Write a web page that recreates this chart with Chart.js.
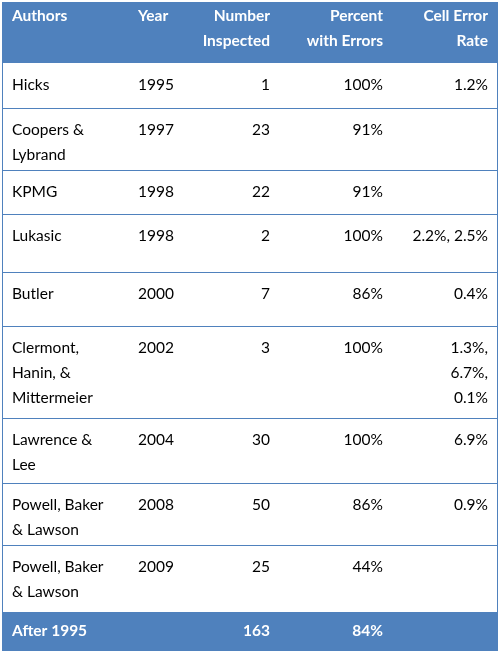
<!DOCTYPE html>
<html>
<head>
<meta charset="utf-8">
<script src="https://cdn.jsdelivr.net/npm/chart.js@4"></script>
<style>
  html, body { margin: 0; padding: 0; background: #fff; }
  #wrap { width: 500px; height: 654px; }
</style>
</head>
<body>
<div id="wrap"><canvas id="tableChart"></canvas></div>
<script>
// table contents
const headers = [["Authors"], ["Year"], ["Number", "Inspected"], ["Percent", "with Errors"], ["Cell Error", "Rate"]];
const authors = [["Hicks"], ["Coopers &", "Lybrand"], ["KPMG"], ["Lukasic"], ["Butler"],
  ["Clermont,", "Hanin, &", "Mittermeier"], ["Lawrence &", "Lee"], ["Powell, Baker", "& Lawson"], ["Powell, Baker", "& Lawson"]];
const years = ["1995", "1997", "1998", "1998", "2000", "2002", "2004", "2008", "2009"];
const inspected = ["1", "23", "22", "2", "7", "3", "30", "50", "25"];
const percentErrors = ["100%", "91%", "91%", "100%", "86%", "100%", "100%", "86%", "44%"];
const cellErrorRate = [["1.2%"], [], [], ["2.2%, 2.5%"], ["0.4%"], ["1.3%,", "6.7%,", "0.1%"], ["6.9%"], ["0.9%"], []];
const footer = ["After 1995", "", "163", "84%", ""];

// row boundaries (in table units), column anchors
const rowEdges = [2, 62, 108, 170, 214, 272, 326, 418, 483, 545, 612, 650];
const colAnchors = [12, 138, 270, 383, 488];
const colAlign = ["left", "left", "right", "right", "right"];

const BLUE = "#4f81bd";
const FONT = "Lato, 'Open Sans', sans-serif";

const tablePlugin = {
  id: "tablePlugin",
  afterDraw(chart) {
    const ctx = chart.ctx;
    const xs = chart.scales.x, ys = chart.scales.y;
    const X = v => xs.getPixelForValue(v), Y = v => ys.getPixelForValue(v);
    const left = X(2), right = X(498);
    ctx.save();
    // header and footer fills
    ctx.fillStyle = BLUE;
    ctx.fillRect(left, Y(rowEdges[0]), right - left, Y(rowEdges[1]) - Y(rowEdges[0]));
    const n = rowEdges.length;
    ctx.fillRect(left, Y(rowEdges[n - 2]), right - left, Y(rowEdges[n - 1]) - Y(rowEdges[n - 2]));
    // grid lines
    ctx.strokeStyle = BLUE;
    ctx.lineWidth = 1;
    rowEdges.forEach(r => {
      ctx.beginPath(); ctx.moveTo(left, Math.round(Y(r)) + 0.5); ctx.lineTo(right, Math.round(Y(r)) + 0.5); ctx.stroke();
    });
    ctx.beginPath();
    ctx.moveTo(left + 0.5, Y(rowEdges[0])); ctx.lineTo(left + 0.5, Y(rowEdges[n - 1]));
    ctx.moveTo(right - 0.5, Y(rowEdges[0])); ctx.lineTo(right - 0.5, Y(rowEdges[n - 1]));
    ctx.stroke();

    const drawCell = (lines, col, top, color, bold) => {
      ctx.fillStyle = color;
      ctx.font = (bold ? "bold " : "") + "15.5px " + FONT;
      ctx.textAlign = colAlign[col];
      ctx.textBaseline = "middle";
      lines.forEach((t, i) => ctx.fillText(t, X(colAnchors[col]), Y(top + 14 + i * 25)));
    };
    headers.forEach((h, c) => drawCell(h, c, rowEdges[0], "#fff", true));
    authors.forEach((a, r) => {
      const top = rowEdges[r + 1] + (r === 0 ? 9 : 8);
      drawCell(a, 0, top, "#000", false);
      drawCell([years[r]], 1, top, "#000", false);
      drawCell([inspected[r]], 2, top, "#000", false);
      drawCell([percentErrors[r]], 3, top, "#000", false);
      drawCell(cellErrorRate[r], 4, top, "#000", false);
    });
    footer.forEach((f, c) => { if (f) drawCell([f], c, rowEdges[n - 2] + 5, "#fff", true); });
    ctx.restore();
  }
};

new Chart(document.getElementById("tableChart"), {
  type: "scatter",
  data: { datasets: [{ data: [] }] },
  options: {
    responsive: true,
    maintainAspectRatio: false,
    animation: false,
    layout: { padding: 0 },
    plugins: { legend: { display: false }, tooltip: { enabled: false } },
    scales: {
      x: { type: "linear", min: 0, max: 500, display: false },
      y: { type: "linear", min: 0, max: 654, reverse: true, display: false }
    }
  },
  plugins: [tablePlugin]
});
</script>
</body>
</html>
